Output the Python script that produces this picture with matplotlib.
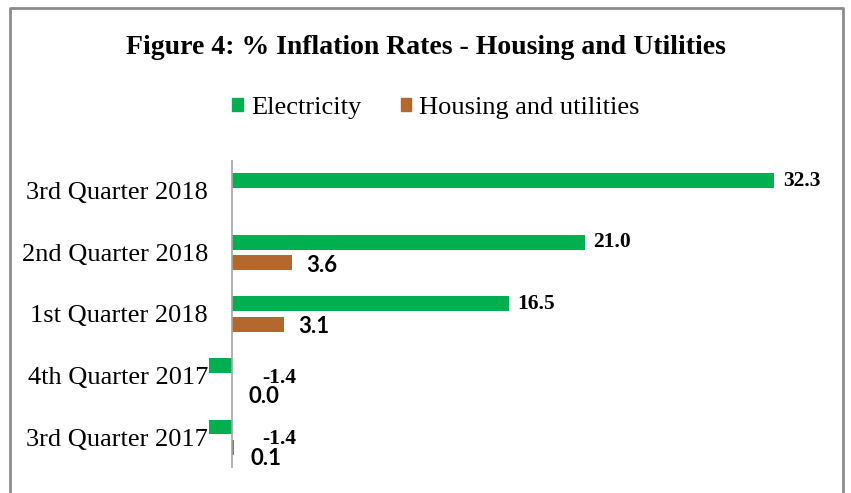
import numpy as np
import matplotlib
matplotlib.use('Agg')
import matplotlib.pyplot as plt
from matplotlib.patches import Patch
from matplotlib.lines import Line2D

# Data (top to bottom as in the chart)
quarters = ['3rd Quarter 2018', '2nd Quarter 2018', '1st Quarter 2018',
            '4th Quarter 2017', '3rd Quarter 2017']
electricity = [32.3, 21.0, 16.5, -1.4, -1.4]
housing = [np.nan, 3.6, 3.1, 0.0, 0.1]

green = '#00B050'
brown = '#B4682E'
serif = 'Liberation Serif'
sans = 'Lato'

W, H = 851, 493
fig = plt.figure(figsize=(W / 100, H / 100), dpi=100)

# Outer frame (bottom edge is cut off in the reference)
frame_x = [10, 10, 843, 843]
frame_y = [493, 8, 8, 493]
fig.add_artist(Line2D([x / W for x in frame_x], [1 - y / H for y in frame_y],
                      color='#8c8c8c', lw=2, transform=fig.transFigure))

fig.text(426 / W, 1 - 47 / H, 'Figure 4: % Inflation Rates - Housing and Utilities',
         ha='center', va='center', fontsize=20, fontweight='bold', family=serif)

ax = fig.add_axes([208 / W, 1 - 468 / H, (840 - 208) / W, (468 - 160) / H])

y = np.arange(len(quarters))
bh = 0.24
off = 0.165
ax.barh(y - off, electricity, height=bh, color=green, clip_on=False)
ax.barh(y + off, housing, height=bh, color=brown, clip_on=False)

ax.set_xlim(-1.43, 36.2)
ax.set_ylim(len(quarters) - 0.5, -0.5)
ax.axvline(0, color='#a6a6a6', lw=1.2)

# Electricity labels
for i, v in enumerate(electricity):
    if v >= 0:
        ax.annotate(f'{v:.1f}', (v, i - off), xytext=(6, 0), textcoords='offset points',
                    ha='left', va='center', fontsize=15.5, family=serif, fontweight='bold')
    else:
        ax.annotate(f'{v:.1f}', (0, i - off + 0.2), xytext=(22, 0), textcoords='offset points',
                    ha='left', va='center', fontsize=15.5, family=serif, fontweight='bold')

# Housing labels
for i, v in enumerate(housing):
    if np.isnan(v):
        continue
    dy = 0.04 if v >= 1 else 0.18
    dx = 10 if v >= 1 else 12
    ax.annotate(f'{v:.1f}', (v, i + off + dy), xytext=(dx, 0), textcoords='offset points',
                ha='left', va='center', fontsize=16, family=sans, fontweight='bold')

ax.set_yticks(y)
ax.set_yticklabels(quarters, fontsize=19, family=serif)
ax.tick_params(axis='y', length=0, pad=0)
ax.set_xticks([])
for s in ax.spines.values():
    s.set_visible(False)

handles = [Patch(color=green, label='Electricity'),
           Patch(color=brown, label='Housing and utilities')]
fig.legend(handles=handles, loc='center', bbox_to_anchor=(436 / W, 1 - 108 / H),
           ncol=2, frameon=False, handlelength=0.4, handleheight=0.4,
           handletextpad=0.3, columnspacing=1.5,
           prop={'family': serif, 'size': 19})

fig.savefig('out.png', dpi=100)
